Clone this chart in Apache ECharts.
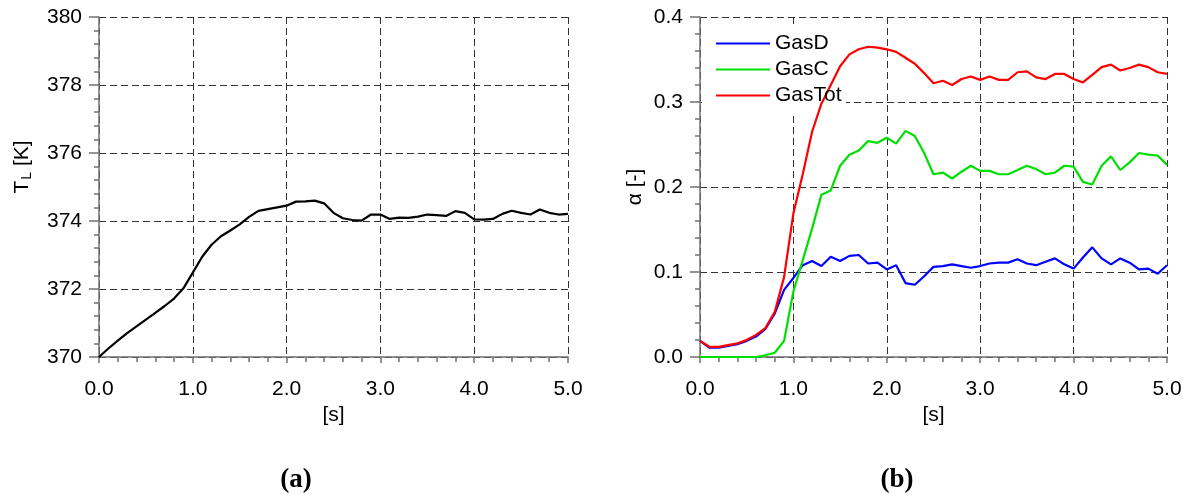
<!DOCTYPE html>
<html>
<head>
<meta charset="utf-8">
<script src="https://cdn.jsdelivr.net/npm/echarts@6/dist/echarts.min.js"></script>
<style>
html,body{margin:0;padding:0;background:#fff;}
#chart{width:1204px;height:499px;}
</style>
</head>
<body>
<div id="chart"></div>
<script>
// Time stamps [s]
const times = [0.0,0.1,0.2,0.3,0.4,0.5,0.6,0.7,0.8,0.9,
  1.0,1.1,1.2,1.3,1.4,1.5,1.6,1.7,1.8,1.9,
  2.0,2.1,2.2,2.3,2.4,2.5,2.6,2.7,2.8,2.9,
  3.0,3.1,3.2,3.3,3.4,3.5,3.6,3.7,3.8,3.9,
  4.0,4.1,4.2,4.3,4.4,4.5,4.6,4.7,4.8,4.9,5.0];

// (a) Liquid temperature T_L [K]
const tempL = [370.0,370.25,370.48,370.7,370.9,371.1,371.3,371.5,371.72,372.02,
  372.48,372.95,373.3,373.55,373.72,373.9,374.12,374.3,374.35,374.4,
  374.45,374.57,374.58,374.6,374.52,374.24,374.08,374.03,374.01,374.19,
  374.19,374.06,374.1,374.09,374.13,374.19,374.17,374.15,374.29,374.24,
  374.05,374.04,374.06,374.21,374.3,374.24,374.19,374.34,374.24,374.19,374.21];

// (b) Gas volume fractions
const gasD = [0.019,0.011,0.011,0.013,0.015,0.019,0.024,0.033,0.051,0.079,
  0.093,0.108,0.113,0.107,0.118,0.113,0.119,0.120,0.110,0.111,
  0.103,0.108,0.087,0.085,0.095,0.106,0.107,0.109,0.107,0.105,
  0.107,0.110,0.111,0.111,0.115,0.110,0.108,0.112,0.116,0.109,
  0.104,0.117,0.129,0.116,0.109,0.116,0.111,0.103,0.104,0.098,0.108];
const gasC = [0.0,0.0,0.0,0.0,0.0,0.0,0.0,0.002,0.005,0.019,
  0.077,0.114,0.151,0.191,0.196,0.225,0.238,0.243,0.254,0.252,
  0.258,0.251,0.266,0.260,0.240,0.215,0.217,0.210,0.218,0.225,
  0.219,0.219,0.215,0.215,0.220,0.225,0.221,0.215,0.217,0.225,
  0.224,0.206,0.203,0.225,0.236,0.220,0.229,0.240,0.238,0.237,0.226];
const gasTot = [0.019,0.012,0.012,0.014,0.016,0.020,0.026,0.034,0.053,0.094,
  0.169,0.215,0.265,0.298,0.320,0.342,0.356,0.362,0.365,0.364,
  0.362,0.359,0.352,0.345,0.334,0.322,0.325,0.320,0.327,0.330,
  0.326,0.330,0.326,0.326,0.335,0.336,0.329,0.327,0.333,0.333,
  0.327,0.323,0.332,0.341,0.344,0.337,0.340,0.344,0.341,0.335,0.333];

const seriesNames = ['GasD','GasC','GasTot'];
const seriesColors = ['#0000ff','#00e000','#ff0000'];

function pairs(vals){ return times.map((t,i)=>[t,vals[i]]); }

const FONT = 'Liberation Sans, Arial, sans-serif';
const axisLineStyle = {color:'#707070', width:1.5};
const splitLineStyle = {show:true, lineStyle:{color:'#333', width:1, type:[7,4]}};
const labelStyle = {color:'#000', fontSize:21, fontFamily:FONT};

function xAxis(gridIndex){
  return {
    type:'value', gridIndex, min:0, max:5, interval:1,
    name:'[s]', nameLocation:'middle', nameGap:46,
    nameTextStyle:{color:'#000', fontSize:21, fontFamily:FONT},
    axisLine:{show:true, onZero:false, lineStyle:axisLineStyle},
    axisTick:{show:true, length:6, lineStyle:{color:'#707070', width:1.5}},
    minorTick:{show:true, splitNumber:5, length:5, lineStyle:{color:'#707070', width:1.5}},
    splitLine:splitLineStyle,
    axisLabel:Object.assign({margin:22, formatter:v=>v.toFixed(1)}, labelStyle)
  };
}

const chart = echarts.init(document.getElementById('chart'), null, {renderer:'canvas'});
chart.setOption({
  animation:false,
  backgroundColor:'#fff',
  grid:[
    {left:99, top:17, width:469, height:340},
    {left:700, top:17, width:467, height:340}
  ],
  xAxis:[xAxis(0), xAxis(1)],
  yAxis:[
    {
      type:'value', gridIndex:0, min:370, max:380, interval:2,
      name:'{a|T}{s|L}{a| [K]}', nameLocation:'middle', nameGap:65,
      nameTextStyle:{color:'#000', fontSize:21, fontFamily:FONT, padding:[0,0,0,40],
        rich:{a:{fontSize:21, fontFamily:FONT, color:'#000'}, s:{fontSize:14, fontFamily:FONT, color:'#000', verticalAlign:'bottom', padding:[10,0,0,1]}}},
      axisLine:{show:true, lineStyle:axisLineStyle},
      axisTick:{show:true, length:10, lineStyle:{color:'#707070', width:1.5}},
      minorTick:{show:true, splitNumber:5, length:5, lineStyle:{color:'#707070', width:1.5}},
      splitLine:splitLineStyle,
      axisLabel:Object.assign({margin:17}, labelStyle)
    },
    {
      type:'value', gridIndex:1, min:0, max:0.4, interval:0.1,
      name:'α [-]', nameLocation:'middle', nameGap:54,
      nameTextStyle:{color:'#000', fontSize:21, fontFamily:FONT},
      axisLine:{show:true, lineStyle:axisLineStyle},
      axisTick:{show:true, length:10, lineStyle:{color:'#707070', width:1.5}},
      minorTick:{show:true, splitNumber:5, length:5, lineStyle:{color:'#707070', width:1.5}},
      splitLine:splitLineStyle,
      axisLabel:Object.assign({margin:17, formatter:v=>v.toFixed(1)}, labelStyle)
    }
  ],
  legend:{
    orient:'vertical', left:711, top:28,
    itemWidth:54, itemHeight:14, itemGap:5,
    icon:'path://M0,6L53,6L53,8.2L0,8.2Z',
    data:seriesNames,
    textStyle:{color:'#000', fontSize:21, fontFamily:FONT, lineHeight:21}
  },
  graphic:[
    {type:'rect', z:1, shape:{x:702, y:25, width:144, height:88}, style:{fill:'#fff'}, silent:true},
    {type:'text', x:296, y:480, style:{text:'(a)', fontSize:27, fontWeight:'bold', fontFamily:'Liberation Serif, Times New Roman, serif', fill:'#000', textAlign:'center', textVerticalAlign:'middle'}},
    {type:'text', x:897, y:480, style:{text:'(b)', fontSize:27, fontWeight:'bold', fontFamily:'Liberation Serif, Times New Roman, serif', fill:'#000', textAlign:'center', textVerticalAlign:'middle'}}
  ],
  series:[
    {type:'line', xAxisIndex:0, yAxisIndex:0, data:pairs(tempL), symbol:'none', z:3,
      lineStyle:{color:'#000', width:2.2}},
    {name:seriesNames[0], type:'line', xAxisIndex:1, yAxisIndex:1, data:pairs(gasD), symbol:'none', z:3,
      itemStyle:{color:seriesColors[0]}, lineStyle:{color:seriesColors[0], width:2.2}},
    {name:seriesNames[1], type:'line', xAxisIndex:1, yAxisIndex:1, data:pairs(gasC), symbol:'none', z:3,
      itemStyle:{color:seriesColors[1]}, lineStyle:{color:seriesColors[1], width:2.2}},
    {name:seriesNames[2], type:'line', xAxisIndex:1, yAxisIndex:1, data:pairs(gasTot), symbol:'none', z:3,
      itemStyle:{color:seriesColors[2]}, lineStyle:{color:seriesColors[2], width:2.2}}
  ]
});
</script>
</body>
</html>
